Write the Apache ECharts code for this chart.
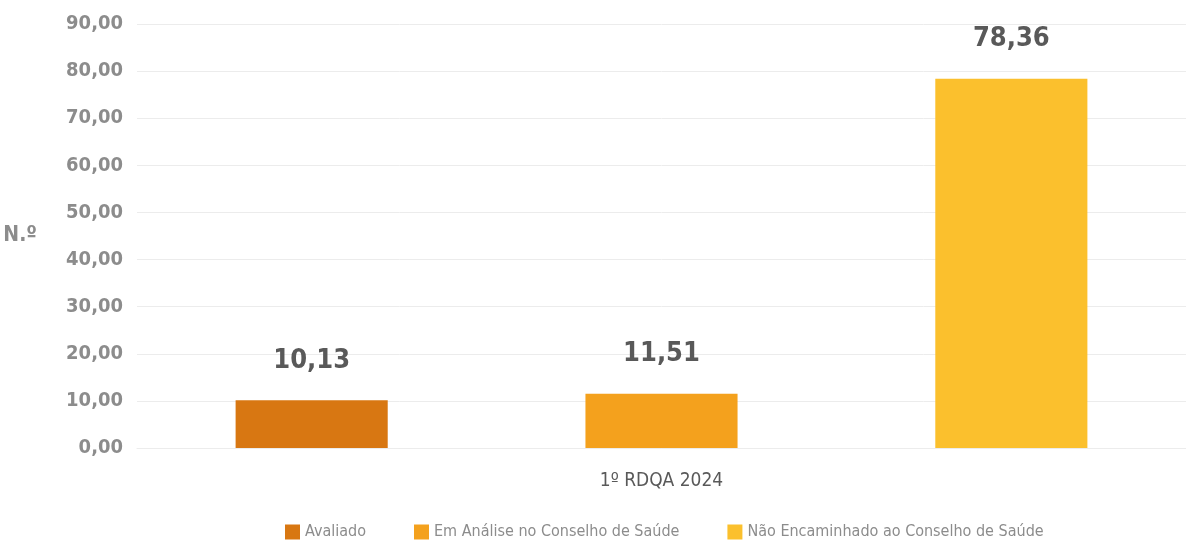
<!DOCTYPE html>
<html>
<head>
<meta charset="utf-8">
<script src="https://cdn.jsdelivr.net/npm/echarts@6/dist/echarts.min.js"></script>
<style>
    html, body { margin: 0; padding: 0; background: #fff; }
    #chart { width: 1186px; height: 543px; }
</style>
</head>
<body>
<div id="chart"></div>
<script>
    // dados
    var categories = ['1º RDQA 2024'];
    var seriesNames = ['Avaliado', 'Em Análise no Conselho de Saúde', 'Não Encaminhado ao Conselho de Saúde'];
    var avaliado = [10.13];
    var emAnalise = [11.51];
    var naoEncaminhado = [78.36];
    var colors = ['#D87712', '#F4A11D', '#FBC02D'];

    var fontFamily = "'Liberation Sans Narrow', 'DejaVu Sans Condensed', 'Roboto', sans-serif";

    function fmt(v) {
        return v.toFixed(2).replace('.', ',');
    }

    var seriesData = [avaliado, emAnalise, naoEncaminhado];
    var series = [];
    for (var i = 0; i < seriesNames.length; i++) {
        series.push({
            name: seriesNames[i],
            type: 'bar',
            data: seriesData[i],
            barGap: '130%',
            barCategoryGap: '18.8%',
            itemStyle: { color: colors[i] },
            label: {
                show: true,
                position: 'top',
                distance: 26,
                color: '#595959',
                fontSize: 27,
                fontWeight: 'bold',
                fontFamily: fontFamily,
                formatter: function (p) { return fmt(p.value); }
            }
        });
    }

    var chart = echarts.init(document.getElementById('chart'));
    chart.setOption({
        animation: false,
        textStyle: { fontFamily: fontFamily },
        grid: { left: 137, right: 0, top: 24, bottom: 95 },
        legend: {
            data: seriesNames,
            bottom: -2,
            left: 280,
            itemWidth: 15,
            itemHeight: 15,
            itemGap: 48,
            icon: 'rect',
            textStyle: { color: '#8c8c8c', fontSize: 16, fontFamily: fontFamily }
        },
        xAxis: {
            type: 'category',
            data: categories,
            axisLine: { show: true, lineStyle: { color: '#ececec', width: 1 } },
            axisTick: { show: false },
            axisLabel: { color: '#595959', fontSize: 19, margin: 24, fontFamily: fontFamily }
        },
        yAxis: {
            type: 'value',
            min: 0,
            max: 90,
            interval: 10,
            name: 'N.º',
            nameLocation: 'middle',
            nameRotate: 0,
            nameGap: 100,
            nameTextStyle: { color: '#8c8c8c', fontSize: 21, fontWeight: 'bold', fontFamily: fontFamily },
            axisLine: { show: false },
            axisTick: { show: false },
            splitLine: { lineStyle: { color: '#ececec', width: 1 } },
            axisLabel: {
                color: '#8c8c8c',
                fontSize: 20,
                fontWeight: 'bold',
                margin: 14,
                fontFamily: fontFamily,
                formatter: function (v) { return fmt(v); }
            }
        },
        series: series
    });
</script>
</body>
</html>
